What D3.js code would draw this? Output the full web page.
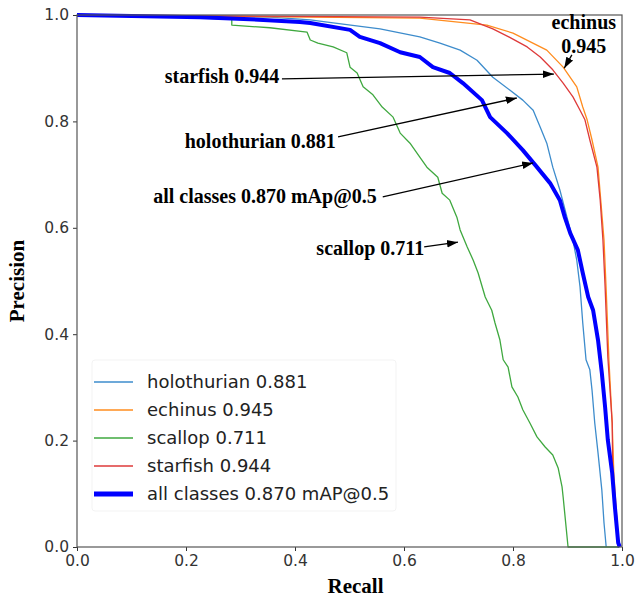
<!DOCTYPE html>
<html>
<head>
<meta charset="utf-8">
<script src="https://cdn.jsdelivr.net/npm/d3@7"></script>
<style>
  body { margin: 0; background: #fff; }
  svg { display: block; }
</style>
</head>
<body>
<div id="chart"></div>
<script>
// PR curves: [recall, precision]
const holothurian = [
    [0, 1], [0.354, 0.996], [0.428, 0.991], [0.470, 0.985], [0.556, 0.974], [0.629, 0.959],
    [0.666, 0.947], [0.703, 0.934], [0.734, 0.915], [0.763, 0.883], [0.794, 0.859],
    [0.818, 0.840], [0.837, 0.821], [0.850, 0.789], [0.862, 0.759], [0.873, 0.714],
    [0.886, 0.671], [0.899, 0.620], [0.910, 0.577], [0.917, 0.539], [0.923, 0.489],
    [0.928, 0.421], [0.934, 0.352], [0.941, 0.333], [0.945, 0.295], [0.950, 0.233],
    [0.956, 0.177], [0.963, 0.107], [0.967, 0.045], [0.971, 0]
];
const echinus = [
    [0, 1], [0.629, 0.994], [0.752, 0.981], [0.800, 0.966], [0.862, 0.934], [0.892, 0.902],
    [0.917, 0.865], [0.928, 0.827], [0.936, 0.803], [0.945, 0.765], [0.956, 0.714],
    [0.961, 0.652], [0.967, 0.577], [0.971, 0.483], [0.976, 0.352], [0.982, 0.233],
    [0.985, 0.139], [0.991, 0.045], [0.994, 0]
];
const scallop = [
    [0, 1], [0.15, 0.998], [0.284, 0.992], [0.284, 0.981], [0.354, 0.976], [0.422, 0.968],
    [0.428, 0.953], [0.442, 0.947], [0.470, 0.940], [0.495, 0.929], [0.501, 0.902],
    [0.514, 0.891], [0.525, 0.865], [0.543, 0.850], [0.560, 0.827], [0.580, 0.808],
    [0.593, 0.778], [0.611, 0.759], [0.629, 0.733], [0.642, 0.714], [0.662, 0.695],
    [0.670, 0.665], [0.684, 0.652], [0.697, 0.620], [0.703, 0.596], [0.716, 0.564],
    [0.727, 0.539], [0.736, 0.515], [0.749, 0.470], [0.761, 0.445], [0.767, 0.421],
    [0.776, 0.389], [0.782, 0.352], [0.791, 0.338], [0.798, 0.301], [0.809, 0.282],
    [0.818, 0.258], [0.831, 0.233], [0.844, 0.207], [0.859, 0.188], [0.873, 0.173],
    [0.883, 0.148], [0.890, 0.113], [0.892, 0.094], [0.901, 0], [0.995, 0]
];
const starfish = [
    [0, 1], [0.629, 0.996], [0.721, 0.991], [0.763, 0.974], [0.794, 0.958], [0.826, 0.940],
    [0.850, 0.921], [0.873, 0.897], [0.892, 0.872], [0.910, 0.846], [0.923, 0.821],
    [0.932, 0.803], [0.941, 0.765], [0.954, 0.714], [0.960, 0.652], [0.965, 0.577],
    [0.969, 0.489], [0.974, 0.357], [0.982, 0.233], [0.983, 0.139], [0.991, 0.045], [0.993, 0]
];
const allClasses = [
    [0, 1], [0.226, 0.996], [0.317, 0.992], [0.409, 0.987], [0.428, 0.985], [0.501, 0.972],
    [0.519, 0.959], [0.556, 0.947], [0.593, 0.930], [0.629, 0.921], [0.653, 0.902],
    [0.684, 0.891], [0.708, 0.872], [0.743, 0.840], [0.758, 0.808], [0.789, 0.778],
    [0.818, 0.746], [0.844, 0.714], [0.868, 0.684], [0.886, 0.652], [0.895, 0.620],
    [0.905, 0.590], [0.919, 0.558], [0.928, 0.515], [0.938, 0.470], [0.947, 0.445],
    [0.956, 0.389], [0.963, 0.327], [0.969, 0.263], [0.974, 0.201], [0.982, 0.139],
    [0.987, 0.075], [0.993, 0.008], [0.996, 0]
];

const seriesNames = ["holothurian 0.881", "echinus 0.945", "scallop 0.711", "starfish 0.944", "all classes 0.870 mAP@0.5"];
const seriesData = [holothurian, echinus, scallop, starfish, allClasses];
const seriesColors = ["#3d8ccc", "#ff8c1e", "#3fa83f", "#de3a3a", "#0000ff"];
const seriesWidths = [1.3, 1.3, 1.3, 1.3, 4];

const ticks = [0, 0.2, 0.4, 0.6, 0.8, 1.0];

// callouts: label, text anchor point, arrow tail, arrow tip (data units)
const callouts = [
    { label: "starfish 0.944", at: [0.371, 0.872], from: [0.376, 0.880], to: [0.875, 0.889] },
    { label: "holothurian 0.881", at: [0.475, 0.750], from: [0.479, 0.771], to: [0.807, 0.844] },
    { label: "all classes 0.870 mAp@0.5", at: [0.550, 0.647], from: [0.561, 0.658], to: [0.837, 0.722] },
    { label: "scallop 0.711", at: [0.637, 0.549], from: [0.637, 0.564], to: [0.699, 0.573] }
];
const echinusNote = { lines: ["echinus", "0.945"], at: [0.930, 0.974], from: [0.908, 0.925], to: [0.894, 0.900] };

const W = 635, H = 599;
const margin = { top: 15, right: 13, bottom: 52, left: 77 };
const width = W - margin.left - margin.right;
const height = H - margin.top - margin.bottom;

const svg = d3.select("#chart").append("svg")
    .attr("width", W)
    .attr("height", H);

const defs = svg.append("defs");
defs.append("marker")
    .attr("id", "arrow")
    .attr("viewBox", "0 0 10 10")
    .attr("refX", 10).attr("refY", 5)
    .attr("markerWidth", 11).attr("markerHeight", 11)
    .attr("markerUnits", "userSpaceOnUse")
    .attr("orient", "auto")
    .append("path")
    .attr("d", "M0,1.5 L10,5 L0,8.5 Z")
    .attr("fill", "#000");

const g = svg.append("g").attr("transform", `translate(${margin.left},${margin.top})`);

const x = d3.scaleLinear().domain([0, 1]).range([0, width]);
const y = d3.scaleLinear().domain([0, 1]).range([height, 0]);

// axes
const xAxis = g.append("g")
    .attr("transform", `translate(0,${height})`)
    .call(d3.axisBottom(x).tickValues(ticks).tickFormat(d3.format(".1f")).tickSize(4).tickPadding(4));
const yAxis = g.append("g")
    .call(d3.axisLeft(y).tickValues(ticks).tickFormat(d3.format(".1f")).tickSize(4).tickPadding(4));

[xAxis, yAxis].forEach(a => {
    a.select(".domain").remove();
    a.selectAll("line").attr("stroke", "#333");
    a.selectAll("text")
        .attr("fill", "#333")
        .style("font-family", "DejaVu Sans")
        .style("font-size", "15.5px");
});

// curves
const line = d3.line().x(d => x(d[0])).y(d => y(d[1]));
g.append("g")
    .selectAll("path")
    .data(seriesData)
    .enter().append("path")
    .attr("fill", "none")
    .attr("stroke", (d, i) => seriesColors[i])
    .attr("stroke-width", (d, i) => seriesWidths[i])
    .attr("stroke-linejoin", "round")
    .attr("d", line);

// frame
g.append("rect")
    .attr("x", 0).attr("y", 0)
    .attr("width", width).attr("height", height)
    .attr("fill", "none")
    .attr("stroke", "#555")
    .attr("stroke-width", 1.2);

// legend
const legend = g.append("g").attr("transform", "translate(15,345)");
legend.append("rect")
    .attr("x", 0).attr("y", 0)
    .attr("width", 304).attr("height", 151)
    .attr("rx", 3)
    .attr("fill", "#fff")
    .attr("fill-opacity", 0.8)
    .attr("stroke", "#f3f3f3");
const items = legend.selectAll("g.item")
    .data(seriesNames)
    .enter().append("g")
    .attr("class", "item")
    .attr("transform", (d, i) => `translate(0,${22 + i * 28})`);
items.append("line")
    .attr("x1", 2).attr("x2", 41)
    .attr("stroke", (d, i) => seriesColors[i])
    .attr("stroke-width", (d, i) => seriesWidths[i] === 4 ? 5 : 1.5);
items.append("text")
    .attr("x", 55)
    .attr("dy", "0.35em")
    .style("font-family", "DejaVu Sans")
    .style("font-size", "18px")
    .attr("fill", "#222")
    .text(d => d);

// annotations
const notes = g.append("g")
    .style("font-family", "Liberation Serif, Times New Roman, serif")
    .style("font-weight", "bold")
    .style("font-size", "20px");

callouts.forEach(c => {
    notes.append("text")
        .attr("x", x(c.at[0])).attr("y", y(c.at[1]))
        .attr("text-anchor", "end")
        .text(c.label);
    notes.append("line")
        .attr("x1", x(c.from[0])).attr("y1", y(c.from[1]))
        .attr("x2", x(c.to[0])).attr("y2", y(c.to[1]))
        .attr("stroke", "#000").attr("stroke-width", 1.3)
        .attr("marker-end", "url(#arrow)");
});

echinusNote.lines.forEach((t, i) => {
    notes.append("text")
        .attr("x", x(echinusNote.at[0]))
        .attr("y", y(echinusNote.at[1]) + i * 24)
        .attr("text-anchor", "middle")
        .text(t);
});
notes.append("line")
    .attr("x1", x(echinusNote.from[0])).attr("y1", y(echinusNote.from[1]))
    .attr("x2", x(echinusNote.to[0])).attr("y2", y(echinusNote.to[1]))
    .attr("stroke", "#000").attr("stroke-width", 1.3)
    .attr("marker-end", "url(#arrow)");

// axis titles
svg.append("text")
    .attr("x", margin.left + width / 2 + 6)
    .attr("y", 593)
    .attr("text-anchor", "middle")
    .style("font-family", "Liberation Serif, Times New Roman, serif")
    .style("font-weight", "bold")
    .style("font-size", "21px")
    .text("Recall");

svg.append("text")
    .attr("transform", `translate(24,${margin.top + height / 2}) rotate(-90)`)
    .attr("text-anchor", "middle")
    .style("font-family", "Liberation Serif, Times New Roman, serif")
    .style("font-weight", "bold")
    .style("font-size", "21px")
    .text("Precision");
</script>
</body>
</html>
